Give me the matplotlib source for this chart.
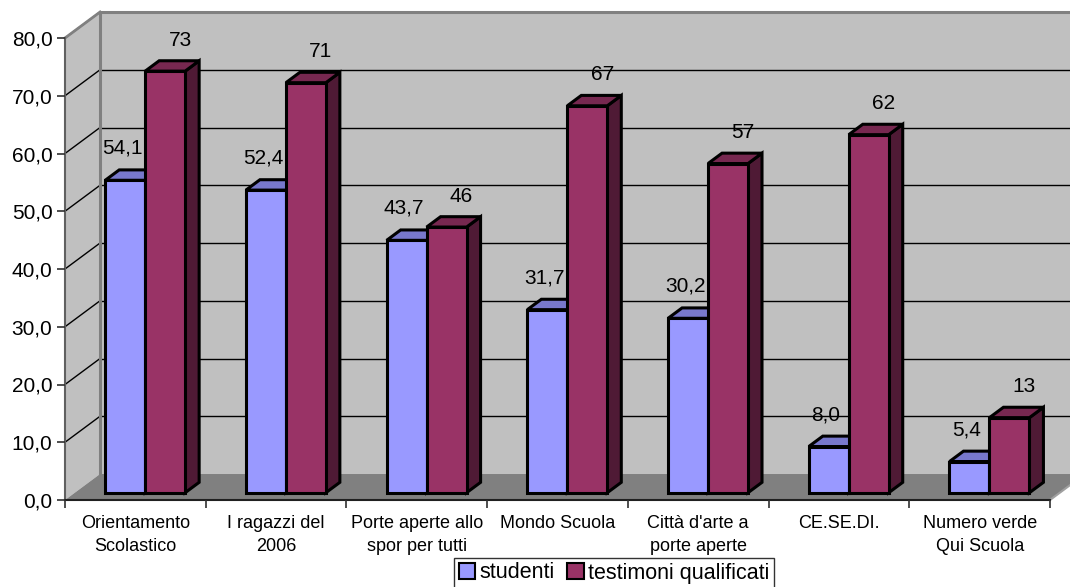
import matplotlib
matplotlib.use("Agg")
import matplotlib.pyplot as plt
from matplotlib.patches import Polygon, Patch

plt.rcParams['font.family'] = ['Liberation Sans', 'DejaVu Sans']

categories = ["Orientamento\nScolastico", "I ragazzi del\n2006", "Porte aperte allo\nspor per tutti",
              "Mondo Scuola", "Città d'arte a\nporte aperte", "CE.SE.DI.", "Numero verde\nQui Scuola"]
studenti = [54.1, 52.4, 43.7, 31.7, 30.2, 8.0, 5.4]
testimoni = [73, 71, 46, 67, 57, 62, 13]
series_names = ["studenti", "testimoni qualificati"]
yticks = [0, 10, 20, 30, 40, 50, 60, 70, 80]

# style
BLUE = ("#9999FF", "#7878CC", "#4D4D80")
RED = ("#993366", "#772850", "#4F1A35")
WALL = "#C0C0C0"
FLOOR = "#808080"
EDGE = "#808080"

fig = plt.figure(figsize=(10.7, 5.87), dpi=100)
ax = fig.add_axes([65/1070, 87/587, 985/1070, 462/587])
n = len(categories)
ax.set_xlim(-0.5, n - 0.5)
ax.set_ylim(0, 80)
ax.patch.set_visible(False)

DX, DY = 0.249, 4.5          # depth offset of the back wall
F0, FD = 0.28, 0.40          # bar front position and bar depth (fractions of total depth)
W = 0.284                    # bar width
x_l, x_r = -0.5, n - 0.5
ymax = yticks[-1]

def poly(pts, fc, ec, lw, z):
    ax.add_patch(Polygon(pts, closed=True, facecolor=fc, edgecolor=ec, linewidth=lw,
                         zorder=z, clip_on=False, joinstyle='miter'))

# back wall, side wall, floor
poly([(x_l+DX, DY), (x_r+DX, DY), (x_r+DX, ymax+DY), (x_l+DX, ymax+DY)], WALL, 'none', 0, 0)
poly([(x_l, 0), (x_l, ymax), (x_l+DX, ymax+DY), (x_l+DX, DY)], WALL, 'none', 0, 0)
poly([(x_l, 0), (x_r, 0), (x_r+DX, DY), (x_l+DX, DY)], FLOOR, 'none', 0, 0.5)

# gridlines
for v in yticks[1:-1]:
    ax.plot([x_l+DX, x_r+DX], [v+DY, v+DY], color='black', lw=1.0, zorder=1, clip_on=False)
for v in yticks[1:]:
    ax.plot([x_l, x_l+DX], [v, v+DY], color='black', lw=1.0, zorder=1, clip_on=False)
# wall borders
ax.plot([x_l+DX, x_l+DX, x_r+DX], [DY, ymax+DY, ymax+DY], color=EDGE, lw=2.2, zorder=1.2, clip_on=False)
ax.plot([x_l, x_l+DX], [ymax, ymax+DY], color=EDGE, lw=2.0, zorder=1.2, clip_on=False)
ax.plot([x_r, x_r+DX], [0, DY], color="#A0A0A0", lw=1.5, zorder=1.2, clip_on=False)

def bar(x0, v, cols, z):
    sx0, sy0 = F0*DX, F0*DY
    sx1, sy1 = (F0+FD)*DX, (F0+FD)*DY
    fc, tc, sc = cols
    lw = 2.2
    poly([(x0+W+sx0, sy0), (x0+W+sx1, sy1), (x0+W+sx1, v+sy1), (x0+W+sx0, v+sy0)], sc, 'black', lw, z)
    poly([(x0+sx0, v+sy0), (x0+W+sx0, v+sy0), (x0+W+sx1, v+sy1), (x0+sx1, v+sy1)], tc, 'black', lw, z)
    poly([(x0+sx0, sy0), (x0+W+sx0, sy0), (x0+W+sx0, v+sy0), (x0+sx0, v+sy0)], fc, 'black', lw, z)

def fmt_s(v):
    return f"{v:.1f}".replace('.', ',')

z = 2
for i in range(n):
    bar(i - W, studenti[i], BLUE, z); z += 0.1
    bar(i, testimoni[i], RED, z); z += 0.1
    ax.annotate(fmt_s(studenti[i]), (i - W/2 + F0*DX, studenti[i] + F0*DY),
                xytext=(-3, 32), textcoords='offset pixels', ha='center', va='center',
                fontsize=15, zorder=10, annotation_clip=False)
    ax.annotate(f"{testimoni[i]:g}", (i + W/2 + F0*DX, testimoni[i] + F0*DY),
                xytext=(15, 31), textcoords='offset pixels', ha='center', va='center',
                fontsize=15, zorder=10, annotation_clip=False)

# axes
for s in ['top', 'right']:
    ax.spines[s].set_visible(False)
ax.spines['left'].set_color('#606060')
ax.spines['left'].set_linewidth(1.5)
ax.spines['bottom'].set_color('#202020')
ax.spines['bottom'].set_linewidth(1.5)
ax.spines['left'].set_zorder(1.3)
ax.spines['bottom'].set_zorder(1.3)

ax.set_yticks(yticks)
ax.set_yticklabels([f"{v:.1f}".replace('.', ',') for v in yticks], fontsize=15)
ax.tick_params(axis='y', direction='out', length=6, width=1.2, color='#303030', pad=3)

ax.set_xticks([k - 0.5 for k in range(n + 1)])
ax.set_xticklabels([])
ax.set_xticks(list(range(n)), minor=True)
ax.set_xticklabels(categories, minor=True, fontsize=13, linespacing=1.45)
ax.tick_params(axis='x', which='major', direction='out', length=6, width=1.2, color='#303030')
ax.tick_params(axis='x', which='minor', length=0, pad=11)

handles = [Patch(facecolor=BLUE[0], edgecolor='black', linewidth=1.5),
           Patch(facecolor=RED[0], edgecolor='black', linewidth=1.5)]
leg = fig.legend(handles, series_names, loc='center', bbox_to_anchor=(614/1070, 1 - 573/587),
                 ncol=2, frameon=True, fancybox=False, fontsize=15.5, handlelength=0.75,
                 handleheight=0.75, handletextpad=0.2, columnspacing=0.6, borderpad=0.2,
                 borderaxespad=0)
leg.get_frame().set_edgecolor('black')
leg.get_frame().set_linewidth(1.0)

fig.savefig("out.png", dpi=100)
